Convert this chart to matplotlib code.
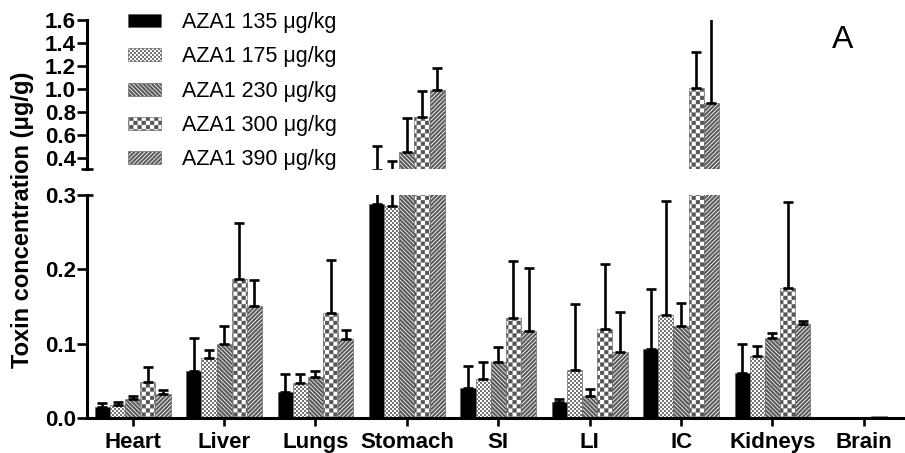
import numpy as np
import matplotlib
matplotlib.use("Agg")
import matplotlib.pyplot as plt
import matplotlib.hatch as mhatch
from matplotlib.path import Path
from matplotlib.patches import Patch

# ---------------- data ----------------
organs = ["Heart", "Liver", "Lungs", "Stomach", "SI", "LI", "IC", "Kidneys", "Brain"]
doses = ["AZA1 135 μg/kg", "AZA1 175 μg/kg", "AZA1 230 μg/kg", "AZA1 300 μg/kg", "AZA1 390 μg/kg"]

mean_135 = [0.015, 0.063, 0.035, 0.288, 0.040, 0.021, 0.093, 0.061, 0.001]
mean_175 = [0.018, 0.081, 0.047, 0.285, 0.053, 0.064, 0.138, 0.084, 0.001]
mean_230 = [0.025, 0.100, 0.055, 0.446, 0.076, 0.030, 0.124, 0.108, 0.0015]
mean_300 = [0.048, 0.187, 0.141, 0.750, 0.134, 0.120, 1.004, 0.175, 0.003]
mean_390 = [0.032, 0.151, 0.106, 0.990, 0.117, 0.089, 0.873, 0.127, 0.002]

err_135 = [0.005, 0.044, 0.024, 0.212, 0.030, 0.005, 0.081, 0.038, 0.0]
err_175 = [0.004, 0.011, 0.012, 0.087, 0.022, 0.089, 0.154, 0.013, 0.0]
err_230 = [0.004, 0.024, 0.008, 0.296, 0.020, 0.009, 0.031, 0.006, 0.0]
err_300 = [0.020, 0.076, 0.071, 0.232, 0.077, 0.087, 0.320, 0.116, 0.0]
err_390 = [0.006, 0.035, 0.013, 0.191, 0.085, 0.053, 0.800, 0.004, 0.0]

means = [mean_135, mean_175, mean_230, mean_300, mean_390]
errs = [err_135, err_175, err_230, err_300, err_390]

lower_ticks = [0.0, 0.1, 0.2, 0.3]
upper_ticks = [0.4, 0.6, 0.8, 1.0, 1.2, 1.4, 1.6]
lower_lim = (0.0, 0.3)
upper_lim = (0.3, 1.6)

# ---------------- custom filled hatches ----------------
_SQ = [Path.MOVETO, Path.LINETO, Path.LINETO, Path.LINETO, Path.CLOSEPOLY]


class _Checker(mhatch.HatchPatternBase):
    char = "O"
    mult = 6
    frac = 0.9

    def __init__(self, hatch, density):
        n = int(hatch.count(self.char) * self.mult)
        if n % 2:
            n += 1
        self.n = n
        self.num_vertices = (n * n // 2) * 5 if n else 0

    def set_vertices_and_codes(self, vertices, codes):
        n = self.n
        s = 1.0 / n
        h = s * self.frac / 2
        k = 0
        for i in range(n):
            for j in range(n):
                if (i + j) % 2 == 0:
                    cx, cy = (i + 0.5) * s, (j + 0.5) * s
                    vertices[k:k + 5] = [[cx - h, cy - h], [cx + h, cy - h],
                                         [cx + h, cy + h], [cx - h, cy + h],
                                         [cx - h, cy - h]]
                    codes[k:k + 5] = _SQ
                    k += 5


class _BigChecker(_Checker):
    char = "O"
    mult = 6
    frac = 0.9


class _SmallChecker(_Checker):
    char = "o"
    mult = 5
    frac = 0.72


class _Stripes(mhatch.HatchPatternBase):
    char = "/"
    sign = 1
    mult = 6
    black = 0.55

    def __init__(self, hatch, density):
        self.n = int(hatch.count(self.char) * self.mult)
        self.num_vertices = (2 * self.n + 2) * 5 if self.n else 0

    def set_vertices_and_codes(self, vertices, codes):
        n = self.n
        t = self.black / n
        k = 0
        for m in range(-n - 1, n + 1):
            c = m / n
            if self.sign > 0:
                pts = [[-0.1, -0.1 + c], [1.1, 1.1 + c], [1.1, 1.1 + c + t],
                       [-0.1, -0.1 + c + t], [-0.1, -0.1 + c]]
            else:
                pts = [[-0.1, 1.1 - c], [1.1, -0.1 - c], [1.1, -0.1 - c + t],
                       [-0.1, 1.1 - c + t], [-0.1, 1.1 - c]]
            vertices[k:k + 5] = pts
            codes[k:k + 5] = _SQ
            k += 5


class _NE(_Stripes):
    char = "/"
    sign = 1
    black = 0.55


class _SE(_Stripes):
    char = "\\"
    sign = -1
    black = 0.58


mhatch._hatch_types = [mhatch.HorizontalHatch, mhatch.VerticalHatch,
                       _NE, _SE, _SmallChecker, _BigChecker]

plt.rcParams["hatch.linewidth"] = 0.3
plt.rcParams["font.family"] = ["Liberation Sans", "DejaVu Sans"]

styles = [
    dict(facecolor="black", hatch=None),
    dict(facecolor="white", hatch="oooooooooo"),
    dict(facecolor="white", hatch="\\\\\\\\"),
    dict(facecolor="white", hatch="OOOO"),
    dict(facecolor="white", hatch="////"),
]

# ---------------- figure ----------------
fig = plt.figure(figsize=(9.05, 4.53), dpi=100)
left, right = 87 / 905, 1.0
ax_lo = fig.add_axes([left, 35 / 453, right - left, (418 - 195) / 453])
ax_hi = fig.add_axes([left, (453 - 169) / 453, right - left, (169 - 20) / 453])

x = np.arange(len(organs))
w = 0.166
offsets = (np.arange(5) - 2) * w

for ax, lim in ((ax_lo, lower_lim), (ax_hi, upper_lim)):
    for k in range(5):
        st = styles[k]
        m = np.array(means[k], dtype=float)
        e = np.array(errs[k], dtype=float)
        ax.bar(x + offsets[k], m, width=w, color=st["facecolor"],
               hatch=st["hatch"], edgecolor="#555555", linewidth=0.4, zorder=2)
        top = m + e
        show = (top > lim[0] + 0.015) & (m < lim[1])
        ax.errorbar((x + offsets[k])[show], m[show],
                    yerr=[np.zeros(show.sum()), e[show]],
                    fmt="none", ecolor="black", elinewidth=1.9, capsize=3.4,
                    capthick=1.9, zorder=3)
    ax.set_xlim(-0.5, 8.45)
    ax.set_ylim(*lim)
    for s in ("top", "right"):
        ax.spines[s].set_visible(False)
    ax.spines["left"].set_linewidth(2.2)
    ax.tick_params(axis="y", direction="out", length=7, width=1.9, labelsize=16, pad=1)

ax_lo.set_yticks(lower_ticks)
ax_lo.set_yticklabels([f"{v:.1f}" for v in lower_ticks], fontweight="bold")
ax_lo.spines["bottom"].set_linewidth(2.2)
ax_lo.set_xticks(x)
ax_lo.set_xticklabels(organs, fontweight="bold", fontsize=16)
ax_lo.tick_params(axis="x", direction="out", length=6, width=1.9, pad=4)

ax_hi.set_yticks(upper_ticks)
ax_hi.set_yticklabels([f"{v:.1f}" for v in upper_ticks], fontweight="bold")
ax_hi.spines["bottom"].set_visible(False)
ax_hi.set_xticks([])

# break markers
ax_hi.plot([-0.007, 0.007], [0, 0], transform=ax_hi.transAxes, color="black",
           lw=1.9, clip_on=False, solid_capstyle="butt")
ax_lo.plot([0, 0.007], [1, 1], transform=ax_lo.transAxes, color="black",
           lw=1.9, clip_on=False, solid_capstyle="butt")

fig.text(23 / 905, (453 - 220) / 453, "Toxin concentration (μg/g)", rotation=90,
         ha="center", va="center", fontsize=17, fontweight="bold")

handles = [Patch(facecolor=st["facecolor"], hatch=st["hatch"], edgecolor="#555555",
                 linewidth=0.4) for st in styles]
fig.legend(handles, doses, loc="upper left", bbox_to_anchor=(128 / 905, 1 - 12 / 453),
           frameon=False, fontsize=15.5, handlelength=1.53, handleheight=0.56,
           handletextpad=1.0, labelspacing=0.62, borderpad=0, borderaxespad=0)

fig.text(843 / 905, 1 - 40 / 453, "A", ha="center", va="center", fontsize=23)

fig.savefig("out.png", dpi=100)
